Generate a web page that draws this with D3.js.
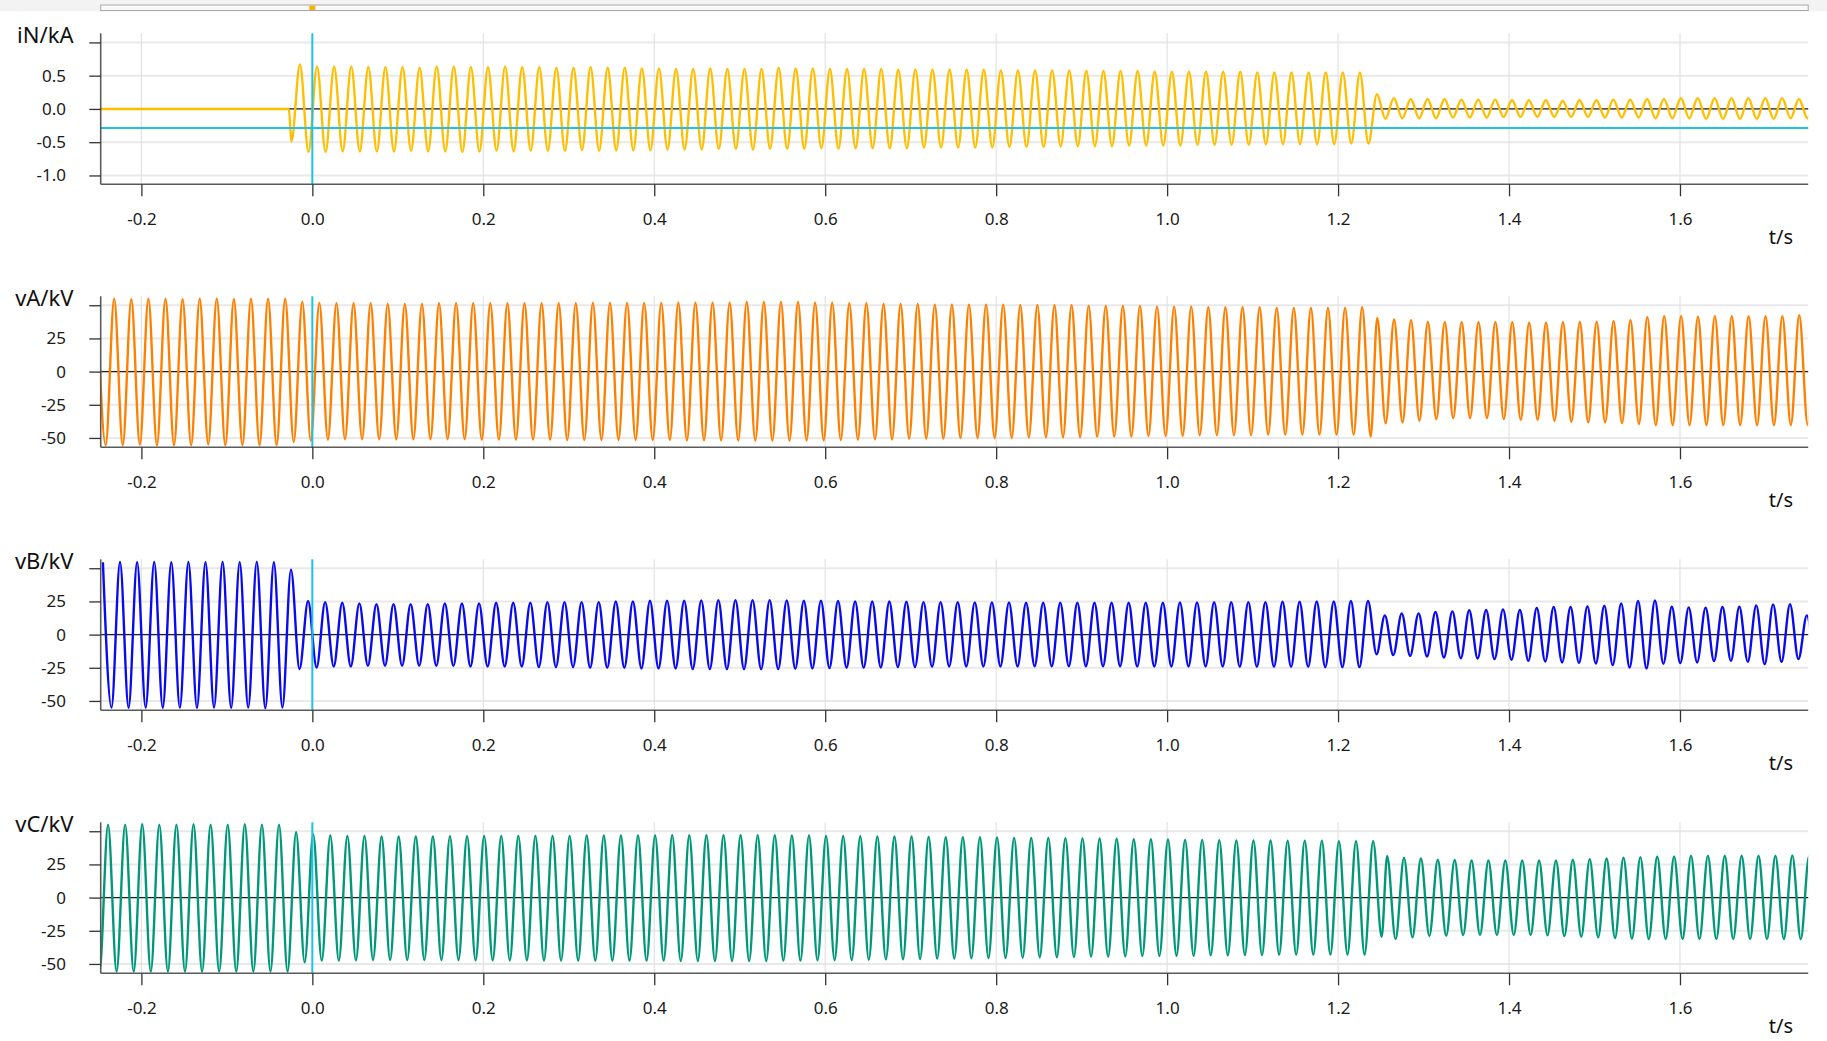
<!DOCTYPE html>
<html><head><meta charset="utf-8">
<script src="https://cdn.jsdelivr.net/npm/d3@7"></script>
<style>
body{margin:0;background:#fff;}
svg{display:block;font-family:"Noto Sans",sans-serif;}
</style>
</head><body>
<svg id="c" width="1827" height="1041"></svg>
<script>
// ---------------- DATA ----------------
const X_TICKS = [-0.2, 0.0, 0.2, 0.4, 0.6, 0.8, 1.0, 1.2, 1.4, 1.6];
const I_TICKS = [-1.0, -0.5, 0.0, 0.5, 1.0];
const V_TICKS = [-50, -25, 0, 25, 50];
const TITLES = ["iN/kA", "vA/kV", "vB/kV", "vC/kV"];
const X_TITLE = "t/s";
const T_START = -0.2476, T_END = 1.75;
const HALF_PRE = 0.01;      // half period before fault clearing (50 Hz)
const HALF_POST = 0.009875; // half period after clearing
const CURSOR_T = 0.0;
const CURSOR_IN = -0.285;

// iN: zero before the fault, then oscillation (peak value, then following trough)
const iN_lead = [[-0.30, 0], [-0.0275, 0], [-0.0245, -0.49]];
const iN_pre_t0 = -0.0145;
const iN_pre_pk = [0.67,0.64,0.64,0.64,0.63,0.63,0.63,0.62,0.64,0.64,0.63,0.63,0.64,0.63,0.63,0.62,0.62,0.63,0.62,0.62,
  0.61,0.61,0.60,0.60,0.61,0.60,0.60,0.60,0.62,0.61,0.61,0.60,0.60,0.60,0.60,0.59,0.59,0.59,0.59,0.59,
  0.59,0.58,0.58,0.58,0.58,0.58,0.57,0.57,0.57,0.57,0.56,0.56,0.56,0.56,0.56,0.56,0.55,0.55,0.55,0.55,
  0.55,0.55,0.55];
const iN_pre_tr = [-0.65,-0.65,-0.64,-0.64,-0.64,-0.64,-0.63,-0.64,-0.64,-0.65,-0.64,-0.63,-0.64,-0.63,-0.63,-0.63,-0.62,-0.63,-0.62,-0.62,
  -0.62,-0.61,-0.61,-0.61,-0.60,-0.60,-0.61,-0.60,-0.60,-0.60,-0.59,-0.60,-0.59,-0.59,-0.59,-0.59,-0.58,-0.58,-0.58,-0.58,
  -0.58,-0.57,-0.57,-0.57,-0.56,-0.56,-0.56,-0.56,-0.55,-0.55,-0.55,-0.55,-0.54,-0.54,-0.54,-0.54,-0.53,-0.53,-0.53,-0.53,
  -0.53,-0.52,-0.52];
const iN_post_t0 = 1.2455;
const iN_post_pk = [0.22,0.16,0.15,0.15,0.15,0.14,0.14,0.14,0.13,0.13,0.13,0.12,0.13,0.13,0.14,0.14,0.15,0.15,0.16,0.16,0.16,0.16,0.16,0.16,0.16,0.15,0.15];
const iN_post_tr = [-0.15,-0.14,-0.14,-0.14,-0.13,-0.13,-0.13,-0.12,-0.12,-0.12,-0.12,-0.12,-0.12,-0.13,-0.13,-0.13,-0.14,-0.14,-0.14,-0.15,-0.15,-0.15,-0.15,-0.15,-0.14,-0.14,-0.14];

// vA
const vA_pre_t0 = -0.2518;
const vA_pre_pk = [55,55,54.5,55,55,54.5,55,55,54.5,55,55,55, 52.5,
  51.8,51.5,51.5,51.5,51,51,51,51.5,51.5,51.5,51.5,51.5,51.5,51.5,51.5,51.5,51.8,51.8,51.8,51.8,
  51.8,52,52,52,52,52.5,52.5,52.5,52.5,52,52,51.5,51.5,51,51,51,50.5,50.5,50.5,50.5,
  50.5,50,50,50,50,49.5,49.5,49.5,49.5,49,49,49,48.5,48.5,48.5,48.5,48,48,48,48,48,48.5];
const vA_pre_tr = [-55.5,-55.5,-55,-55.5,-55.5,-55.5,-55,-55.5,-55.5,-55.5,-55.5, -53, -52,
  -51.3,-51,-51,-51,-51,-51,-51,-51,-51,-51.3,-51.3,-51.3,-51.3,-51.3,-51.5,-51.5,-51.5,-51.5,-51.5,-51.5,
  -51.5,-51.8,-51.8,-51.8,-52,-52,-52,-52,-52,-51.8,-51.5,-51.3,-51,-51,-50.5,-50.5,-50.5,-50,-50,-50,
  -50,-49.5,-49.5,-49.5,-49.5,-49,-49,-49,-48.5,-48.5,-48.5,-48,-48,-48,-48,-47.5,-47.5,-47.5,-47.5,-47.5,-47.5,-49];
const vA_post_t0 = 1.2458;
const vA_post_pk = [40.5,39.3,38.8,37.5,37.3,37.3,37.3,37.3,37.3,36.8,36.8,37.3,37.5,37.5,38,38.8,41,41.8,41.8,41.3,41.8,41.8,41.8,41.8,41.8,42.5,42];
const vA_post_tr = [-39,-38.3,-37,-35.8,-35,-35,-35,-35.8,-36.3,-36.3,-37,-37.8,-38.3,-38.3,-38.8,-39.5,-40.3,-40.3,-40.3,-40.3,-40.3,-40.3,-40.3,-40.3,-40.3,-40,-40];

// vB
const vB_pre_t0 = -0.245;
const vB_pre_pk = [54.5,54.8,54.5,54.8,54.5,54.8,54.5,54.8,54.5,55,54.5, 49, 25.3,
  24.5,24,23.5,23,23,23,23,23.5,23.5,23.5,24,24,24,24.5,24.5,24.5,24.5,25,25,25.5,
  25.5,25.5,25.8,26,26,26,26,25.8,25.5,25.5,25.3,25,25,25,24.8,24.5,24.5,24.5,24.3,24.3,
  24.3,24,24,24,24,24,24,24,24,24,24.3,24.3,24.5,24.5,24.5,24.5,24.8,24.8,25,25,25.3,25.3];
const vB_pre_tr = [-55,-55.2,-55,-55.2,-55,-55.2,-55,-55.2,-55,-55.5,-55, -26, -24.8,
  -24,-24,-23.5,-23.5,-23.5,-23.5,-23.5,-23.5,-24,-24,-24,-24,-24.5,-24.5,-24.5,-25,-25,-25,-25.5,-25.5,
  -25.5,-26,-26,-26,-26,-26,-26,-25.8,-25.5,-25.3,-25,-25,-24.8,-24.5,-24.5,-24.3,-24,-24,-24,-24,
  -24,-23.8,-23.8,-23.8,-23.8,-23.8,-23.8,-24,-24,-24,-24,-24,-24,-24.3,-24.3,-24.3,-24.3,-24.3,-24.5,-24.5,-24.5, -14.8];
const vB_post_t0 = 1.2547;
const vB_post_pk = [14.5,16,16,17,17.5,18.3,18.5,19,18.5,20,20.8,20.8,21.3,21.8,23.5,25.3,25.8,21,20.5,20.3,20.8,21,22,22.8,23,14.5,14];
const vB_post_tr = [-15.5,-16,-16.5,-17.3,-17.8,-18,-18.5,-19,-19.8,-20.3,-21,-21.3,-21.8,-23,-24.8,-25.5,-22,-21.5,-21,-20,-19.8,-20.5,-22.3,-20.5,-18.5,-15,-15];

// vC
const vC_pre_t0 = -0.259;
const vC_pre_pk = [55,55,55,55.3,55,55,55.3,55,55,55.3,55,55, 49.3, 47.5,
  46.8,46.5,46.5,46,46,46,46,46.3,46.3,46.5,46.5,46.5,46.5,46.5,46.5,46.8,46.8,46.8,46.8,46.8,
  47,47,47,47,47,47,47,46.8,46.8,46.5,46.5,46.3,46,46,46,45.8,45.5,45.5,45.5,45.3,
  45,45,45,44.8,44.5,44.5,44.3,44,44,43.8,43.5,43.5,43.3,43,43,43,42.8,42.8,42.8,42.5,42.5,42.5];
const vC_pre_tr = [-55.8,-55.8,-55.8,-55.8,-55.8,-55.8,-55.8,-55.8,-55.8,-55.8,-55.8,-55.8, -48.8, -47.5,
  -47.5,-47.3,-47,-47,-47,-47,-47,-47,-47.3,-47.3,-47.3,-47.3,-47.5,-47.5,-47.5,-47.5,-47.5,-47.5,-47.5,-47.5,
  -47.8,-47.8,-47.8,-47.8,-47.8,-47.8,-47.5,-47.5,-47.3,-47,-47,-46.8,-46.5,-46.5,-46.3,-46,-46,-45.8,-45.5,-45.5,
  -45.3,-45,-45,-44.8,-44.5,-44.5,-44.3,-44,-44,-43.8,-43.8,-43.5,-43.5,-43.3,-43.3,-43,-43,-43,-43,-43,-43, -29.5];
const vC_post_t0 = 1.2574;
const vC_post_pk = [31.3,30,29.5,28.5,28.3,28,28,28,28,28,28,28.5,29,29.5,30,30.5,31,31,31.5,31.5,31.5,31.5,31.5,31.5,31.8,31.5];
const vC_post_tr = [-31.3,-30,-29,-28.8,-28.3,-28.3,-28.3,-28.3,-28.3,-28.5,-29,-29.5,-30,-30.5,-31,-31.3,-31.3,-31.3,-31.3,-31.3,-31.3,-31.3,-31.3,-31.3,-31.3,-31.3];

// ---------------- BUILD ----------------
function wave(lead, preT0, prePk, preTr, postT0, postPk, postTr) {
  const pts = lead.map(d => ({t: d[0], v: d[1]}));
  prePk.forEach((p, k) => {
    const t = preT0 + 2 * HALF_PRE * k;
    pts.push({t: t, v: p});
    pts.push({t: t + HALF_PRE, v: preTr[k]});
  });
  postPk.forEach((p, k) => {
    const t = postT0 + 2 * HALF_POST * k;
    pts.push({t: t, v: p});
    pts.push({t: t + HALF_POST, v: postTr[k]});
  });
  return pts;
}

const loc = d3.formatLocale({decimal: ".", thousands: ",", grouping: [3], currency: ["", ""], minus: "-"});
const f1 = loc.format(".1f"), fd = loc.format("d");

const panels = [
  {title: TITLES[0], color: "#ffbf00", domain: [-1.133, 1.137], ticks: I_TICKS, fmt: f1,
   data: wave(iN_lead, iN_pre_t0, iN_pre_pk, iN_pre_tr, iN_post_t0, iN_post_pk, iN_post_tr), hCursor: CURSOR_IN},
  {title: TITLES[1], color: "#ff8000", domain: [-57.05, 56.75], ticks: V_TICKS, fmt: fd,
   data: wave([], vA_pre_t0, vA_pre_pk, vA_pre_tr, vA_post_t0, vA_post_pk, vA_post_tr)},
  {title: TITLES[2], color: "#0a0af0", domain: [-57.05, 56.75], ticks: V_TICKS, fmt: fd,
   data: wave([], vB_pre_t0, vB_pre_pk, vB_pre_tr, vB_post_t0, vB_post_pk, vB_post_tr)},
  {title: TITLES[3], color: "#009878", domain: [-57.05, 56.75], ticks: V_TICKS, fmt: fd,
   data: wave([], vC_pre_t0, vC_pre_pk, vC_pre_tr, vC_post_t0, vC_post_pk, vC_post_tr)}
];

const svg = d3.select("#c");
const X0 = 100.7, X1 = 1808.2;
const x = d3.scaleLinear().domain([T_START, T_END]).range([X0, X1]);
const TOP0 = 33.3, PH = 151, STEP = 263;

// top navigator strip
svg.append("rect").attr("x", 0).attr("y", 0).attr("width", 1827).attr("height", 11.5).attr("fill", "#f3f3f3");
svg.append("rect").attr("x", X0).attr("y", 5).attr("width", X1 - X0).attr("height", 5.5)
  .attr("fill", "#fafafa").attr("stroke", "#a8a8a8").attr("stroke-width", 1);
svg.append("rect").attr("x", x(CURSOR_T) - 3).attr("y", 5.5).attr("width", 6).attr("height", 4.5).attr("fill", "#f5b400");

panels.forEach((p, i) => {
  const top = TOP0 + STEP * i, bot = top + PH;
  const y = d3.scaleLinear().domain(p.domain).range([bot, top]);
  const g = svg.append("g");
  const clipId = "clip" + i;
  svg.append("clipPath").attr("id", clipId).append("rect")
    .attr("x", X0).attr("y", top).attr("width", X1 - X0).attr("height", PH);

  // grid
  g.selectAll(".hg").data(p.ticks).join("line")
    .attr("x1", X0).attr("x2", X1).attr("y1", d => y(d)).attr("y2", d => y(d))
    .attr("stroke", "#e9e9e9").attr("stroke-width", 2);
  g.selectAll(".vg").data(X_TICKS).join("line")
    .attr("x1", d => x(d)).attr("x2", d => x(d)).attr("y1", top).attr("y2", bot)
    .attr("stroke", "#e2e2e2").attr("stroke-width", 1.2);

  // zero line
  g.append("line").attr("x1", X0).attr("x2", X1).attr("y1", y(0)).attr("y2", y(0))
    .attr("stroke", "#222").attr("stroke-width", 1.2);

  // waveform
  const line = d3.line().x(d => x(d.t)).y(d => y(d.v)).curve(d3.curveMonotoneX);
  g.append("path").datum(p.data).attr("clip-path", `url(#${clipId})`)
    .attr("d", line).attr("fill", "none").attr("stroke", p.color)
    .attr("stroke-width", 2.4).attr("stroke-linejoin", "round");

  // cursors
  g.append("line").attr("x1", x(CURSOR_T)).attr("x2", x(CURSOR_T)).attr("y1", top).attr("y2", bot)
    .attr("stroke", "#1cc3e6").attr("stroke-width", 2);
  if (p.hCursor !== undefined) {
    g.append("line").attr("x1", X0).attr("x2", X1).attr("y1", y(p.hCursor)).attr("y2", y(p.hCursor))
      .attr("stroke", "#1cc3e6").attr("stroke-width", 2);
  }

  // axes
  const top1 = p.ticks[p.ticks.length - 1];
  const yAxis = d3.axisLeft(y).tickValues(p.ticks).tickSize(11.4).tickSizeOuter(0).tickPadding(23.3)
    .tickFormat(d => d === top1 ? "" : p.fmt(d));
  const ya = g.append("g").attr("transform", `translate(${X0},0)`).call(yAxis);
  const xAxis = d3.axisBottom(x).tickValues(X_TICKS).tickSize(12).tickSizeOuter(0).tickPadding(16.6)
    .tickFormat(f1);
  const xa = g.append("g").attr("transform", `translate(0,${bot})`).call(xAxis);
  [ya, xa].forEach(a => {
    a.select(".domain").attr("stroke", "#5a5a5a").attr("stroke-width", 1.6);
    a.selectAll(".tick line").attr("stroke", "#333").attr("stroke-width", 1.3);
    a.selectAll(".tick text").attr("fill", "#1a1a1a").style("font-size", "17px").style("font-family", '"Noto Sans", sans-serif');
  });
  ya.select(".domain").attr("d", `M0,${top}V${bot}`);
  xa.select(".domain").attr("d", `M${X0},0H${X1}`);

  // titles
  g.append("text").attr("x", 73.5).attr("y", y(top1) + 0.5).attr("text-anchor", "end")
    .attr("fill", "#111").style("font-size", "22px").text(p.title);
  g.append("text").attr("x", 1793).attr("y", bot + 59.7).attr("text-anchor", "end")
    .attr("fill", "#111").style("font-size", "20px").text(X_TITLE);
});
</script>
</body></html>
